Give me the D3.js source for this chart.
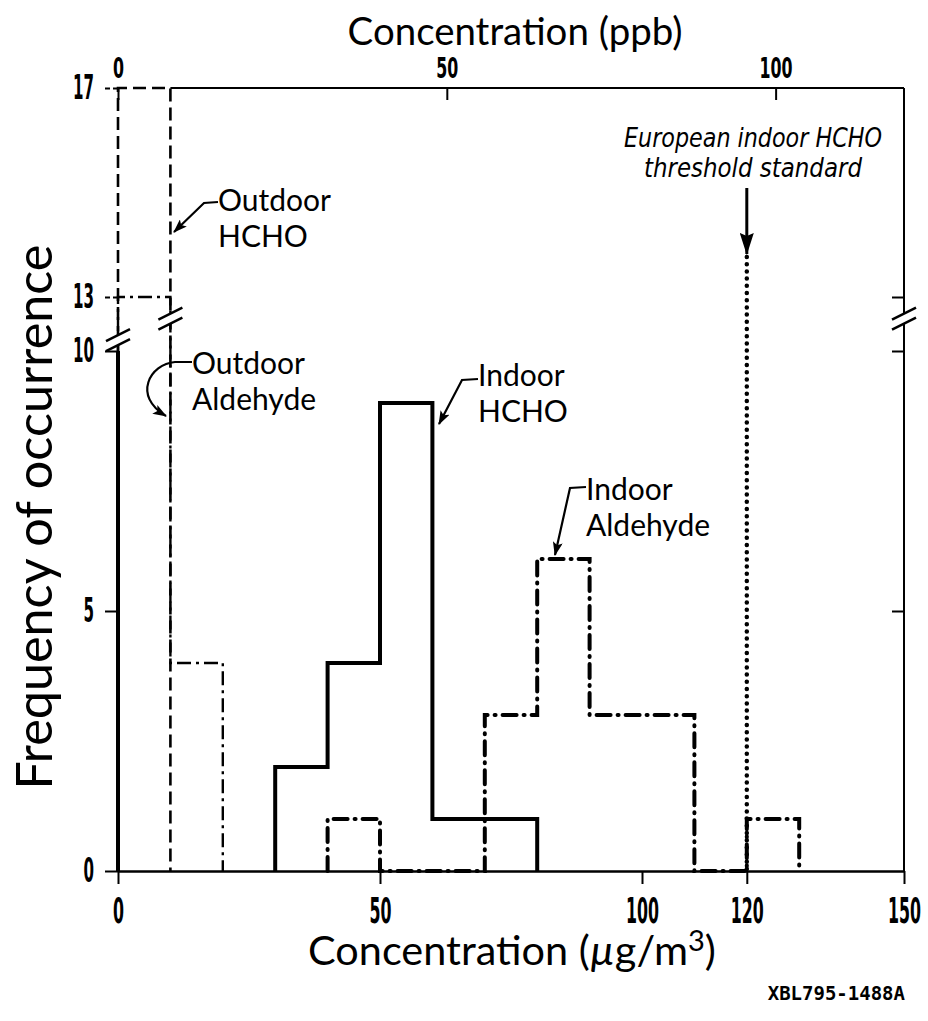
<!DOCTYPE html>
<html>
<head>
<meta charset="utf-8">
<script src="https://cdn.jsdelivr.net/npm/d3@7"></script>
<style>
  body { margin: 0; background: #fff; }
  svg { display: block; }
</style>
</head>
<body>
<div id="chart"></div>
<script>
// histogram bins, µg/m3
const binEdges = [0, 10, 20, 30, 40, 50, 60, 70, 80, 90, 100, 110, 120, 130, 140, 150];
// counts per bin
const outdoorHCHO     = [17, 0, 0, 0, 0, 0, 0, 0, 0, 0, 0, 0, 0, 0, 0];
const outdoorAldehyde = [13, 4, 0, 0, 0, 0, 0, 0, 0, 0, 0, 0, 0, 0, 0];
const indoorHCHO      = [0, 0, 0, 2, 4, 9, 1, 1, 0, 0, 0, 0, 0, 0, 0];
const indoorAldehyde  = [0, 0, 0, 0, 1, 0, 0, 3, 6, 3, 3, 0, 1, 0, 0];

const xTicks = [0, 50, 100, 120, 150];
const ppbTicks = [0, 50, 100];
const yTicks = [0, 5, 10, 13, 17];
const thresholdValue = 120;
const ugPerPpb = 1.255;

const W = 928, H = 1021;
const fontMain = "Lato, 'Noto Sans', sans-serif";
const fontNarrow = "'Liberation Sans Narrow', 'DejaVu Sans Condensed', sans-serif";

const svg = d3.select("#chart").append("svg")
  .attr("width", W).attr("height", H)
  .style("background", "#fff");

const x = d3.scaleLinear().domain([0, 150]).range([118, 904]);
const xppb = d3.scaleLinear().domain([0, 150 / ugPerPpb]).range([118, 904]);
// broken axis: 10..13 is squeezed
const y = d3.scaleLinear().domain([0, 10, 13, 17]).range([871, 351, 297, 88]);

const defs = svg.append("defs");
function arrowMarker(id, len, wid) {
  defs.append("marker")
    .attr("id", id)
    .attr("viewBox", `0 0 ${len} ${wid}`)
    .attr("refX", len - 1).attr("refY", wid / 2)
    .attr("markerWidth", len).attr("markerHeight", wid)
    .attr("markerUnits", "userSpaceOnUse")
    .attr("orient", "auto")
    .append("path")
    .attr("d", `M0,0 L${len},${wid / 2} L0,${wid} L3,${wid / 2} Z`)
    .attr("fill", "#000");
}
arrowMarker("arrow", 14, 10);
arrowMarker("arrowBig", 22, 14);

// step outline of one histogram, from first to last non-zero bin
function stepPoints(counts) {
  let i0 = counts.findIndex(c => c > 0);
  let i1 = counts.length - 1;
  while (counts[i1] === 0) i1--;
  const pts = [[binEdges[i0], 0]];
  for (let i = i0; i <= i1; i++) {
    pts.push([binEdges[i], counts[i]]);
    pts.push([binEdges[i + 1], counts[i]]);
  }
  pts.push([binEdges[i1 + 1], 0]);
  return pts;
}

const line = d3.line().x(d => x(d[0])).y(d => y(d[1]));

// squeeze the wide fallback font down to the narrow digits of the original
function narrow(sel, perChar) {
  sel.each(function () {
    const n = this.textContent.length;
    d3.select(this)
      .attr("textLength", n * perChar)
      .attr("lengthAdjust", "spacingAndGlyphs");
  });
}

// frame and axes
const frame = svg.append("g").attr("stroke", "#000").attr("fill", "none");
frame.append("line")
  .attr("x1", x(10)).attr("x2", x(150)).attr("y1", y(17)).attr("y2", y(17))
  .attr("stroke-width", 2);
frame.append("line")
  .attr("x1", x(150)).attr("x2", x(150)).attr("y1", y(17)).attr("y2", y(0))
  .attr("stroke-width", 2);
frame.append("line")
  .attr("x1", x(0)).attr("x2", x(0)).attr("y1", y(10)).attr("y2", y(0))
  .attr("stroke-width", 4);

const gx = svg.append("g")
  .attr("transform", `translate(0,${y(0)})`)
  .call(d3.axisBottom(x).tickValues(xTicks).tickSize(13).tickPadding(12).tickSizeOuter(0));
gx.select(".domain").attr("stroke-width", 2.5);
gx.selectAll(".tick line").attr("stroke-width", 2);
gx.selectAll("text")
  .attr("font-family", fontNarrow).attr("font-size", 35).attr("font-weight", "bold")
  .attr("dy", null).attr("y", 52)
  .call(narrow, 11);

const gy = svg.append("g")
  .attr("transform", `translate(${x(0)},0)`)
  .call(d3.axisLeft(y).tickValues(yTicks).tickSize(13).tickPadding(11));
gy.select(".domain").remove();
gy.selectAll(".tick line").attr("stroke-width", 2);
gy.selectAll(".tick")
  .filter(d => d === 13 || d === 17)
  .select("line").attr("stroke-dasharray", "5,3");
gy.selectAll("text")
  .attr("font-family", fontNarrow).attr("font-size", 34).attr("font-weight", "bold")
  .call(narrow, 10.5);

const gtop = svg.append("g")
  .attr("transform", `translate(0,${y(17)})`)
  .call(d3.axisTop(xppb).tickValues(ppbTicks).tickSize(-12).tickPadding(10));
gtop.select(".domain").remove();
gtop.selectAll(".tick line").attr("stroke-width", 2);
gtop.selectAll("text")
  .attr("font-family", fontNarrow).attr("font-size", 28).attr("font-weight", "bold")
  .call(narrow, 11);

const gright = svg.append("g")
  .attr("transform", `translate(${x(150)},0)`)
  .call(d3.axisRight(y).tickValues([5, 10, 13]).tickSize(-12).tickFormat(""));
gright.select(".domain").remove();
gright.selectAll(".tick line").attr("stroke-width", 2);

// histograms
const series = [
  { counts: outdoorHCHO, width: 2.6, dash: "13,6", cap: "butt" },
  { counts: outdoorAldehyde, width: 2.4, dash: "14,5,3,5", cap: "butt" },
  { counts: indoorHCHO, width: 4, dash: null, cap: "butt" },
  { counts: indoorAldehyde, width: 4, dash: "14,7,1,7", cap: "round" }
];
svg.append("g").selectAll("path")
  .data(series)
  .join("path")
  .attr("d", d => line(stepPoints(d.counts)))
  .attr("fill", "none")
  .attr("stroke", "#000")
  .attr("stroke-width", d => d.width)
  .attr("stroke-dasharray", d => d.dash)
  .attr("stroke-linecap", d => d.cap)
  .attr("stroke-linejoin", "miter");

// threshold
svg.append("line")
  .attr("x1", x(thresholdValue)).attr("x2", x(thresholdValue))
  .attr("y1", 257).attr("y2", y(0))
  .attr("stroke", "#000").attr("stroke-width", 4.5)
  .attr("stroke-dasharray", "0,7.2").attr("stroke-linecap", "round");
svg.append("path")
  .attr("d", `M${x(thresholdValue)},188 L${x(thresholdValue)},254`)
  .attr("stroke", "#000").attr("stroke-width", 3).attr("fill", "none")
  .attr("marker-end", "url(#arrowBig)");

// axis breaks
function breakMark(cx, cy) {
  svg.append("rect")
    .attr("x", cx - 6).attr("y", cy - 5).attr("width", 12).attr("height", 10)
    .attr("fill", "#fff");
  [-5, 5].forEach(off => {
    svg.append("line")
      .attr("x1", cx - 12).attr("y1", cy + off + 6)
      .attr("x2", cx + 12).attr("y2", cy + off - 6)
      .attr("stroke", "#000").attr("stroke-width", 2.5);
  });
}
breakMark(x(0), y(10.6));
breakMark(x(10), y(11.8));
breakMark(x(150), y(11.8));

// labels with leaders
const notes = [
  { lines: ["Outdoor", "HCHO"], x: 218, y: 211, leader: "M218,202 L204,203 L174,232" },
  { lines: ["Outdoor", "Aldehyde"], x: 192, y: 374, leader: "M192,362 L175,362 C150,364 132,396 166,416" },
  { lines: ["Indoor", "HCHO"], x: 478, y: 386, leader: "M478,379 L462,380 L439,424" },
  { lines: ["Indoor", "Aldehyde"], x: 586, y: 500, leader: "M586,487 L570,488 L555,555" }
];
const ng = svg.append("g");
notes.forEach(n => {
  ng.append("path")
    .attr("d", n.leader)
    .attr("fill", "none").attr("stroke", "#000").attr("stroke-width", 2.2)
    .attr("marker-end", "url(#arrow)");
  const t = ng.append("text")
    .attr("font-family", fontMain).attr("font-size", 30);
  n.lines.forEach((s, i) => {
    t.append("tspan").attr("x", n.x).attr("y", n.y + i * 36).text(s);
  });
});

const euLines = [
  { text: "European indoor HCHO", y: 147, len: 258 },
  { text: "threshold standard", y: 177, len: 218 }
];
svg.append("g").selectAll("text")
  .data(euLines)
  .join("text")
  .attr("x", 753).attr("y", d => d.y)
  .attr("text-anchor", "middle")
  .attr("font-family", fontNarrow).attr("font-size", 27)
  .attr("font-style", "italic")
  .attr("textLength", d => d.len).attr("lengthAdjust", "spacingAndGlyphs")
  .text(d => d.text);

// titles, fitted to the widths in the original
function fit(sel, width) {
  const fs = +sel.attr("font-size");
  const len = sel.node().getComputedTextLength();
  sel.attr("font-size", fs * width / len);
}

const topTitle = svg.append("text")
  .attr("x", 515).attr("y", 45)
  .attr("text-anchor", "middle")
  .attr("font-family", fontMain).attr("font-size", 38)
  .text("Concentration (ppb)");
fit(topTitle, 335);

const bottomTitle = svg.append("text")
  .attr("x", 512).attr("y", 965)
  .attr("text-anchor", "middle")
  .attr("font-family", fontMain).attr("font-size", 38);
bottomTitle.append("tspan").text("Concentration (");
bottomTitle.append("tspan").attr("font-style", "italic").text("µ");
bottomTitle.append("tspan").text("g/m");
bottomTitle.append("tspan").attr("dy", -14).attr("font-size", "0.7em").text("3");
bottomTitle.append("tspan").attr("dy", 14).text(")");
fit(bottomTitle, 408);

const yTitle = svg.append("text")
  .attr("transform", "translate(52,517) rotate(-90)")
  .attr("text-anchor", "middle")
  .attr("font-family", fontMain).attr("font-size", 40)
  .text("Frequency of occurrence");
fit(yTitle, 545);

svg.append("text")
  .attr("x", 905).attr("y", 1000)
  .attr("text-anchor", "end")
  .attr("font-family", "'DejaVu Sans Mono', monospace")
  .attr("font-weight", "bold").attr("font-size", 19)
  .text("XBL795-1488A");
</script>
</body>
</html>
